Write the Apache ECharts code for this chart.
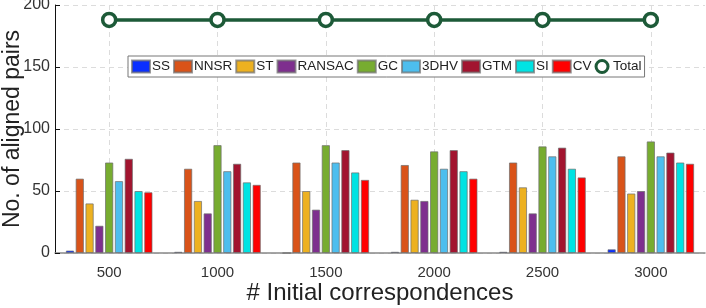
<!DOCTYPE html>
<html><head><meta charset="utf-8">
<script src="https://cdn.jsdelivr.net/npm/echarts@6/dist/echarts.min.js"></script>
<style>html,body{margin:0;padding:0;background:#fff}#c{width:706px;height:308px}</style>
</head><body><div id="c"></div>
<script>
const categories = ['500','1000','1500','2000','2500','3000'];
const SS     = [2, 1, 0, 1, 1, 3];
const NNSR   = [60, 68, 73, 71, 73, 78];
const ST     = [40, 42, 50, 43, 53, 48];
const RANSAC = [22, 32, 35, 42, 32, 50];
const GC     = [73, 87, 87, 82, 86, 90];
const DHV3   = [58, 66, 73, 68, 78, 78];
const GTM    = [76, 72, 83, 83, 85, 81];
const SI     = [50, 57, 65, 66, 68, 73];
const CV     = [49, 55, 59, 60, 61, 72];
const Total  = [188, 188, 188, 188, 188, 188];
const yTicks = [0, 50, 100, 150, 200];

const barSeries = [
  ['SS', SS, '#0a2fff'],
  ['NNSR', NNSR, '#d95319'],
  ['ST', ST, '#edb120'],
  ['RANSAC', RANSAC, '#7e2f8e'],
  ['GC', GC, '#77ac30'],
  ['3DHV', DHV3, '#4dbeee'],
  ['GTM', GTM, '#a2142f'],
  ['SI', SI, '#00e3e3'],
  ['CV', CV, '#ff0000']
];
const font = 'Liberation Sans, Arial, Helvetica, sans-serif';
const series = barSeries.map(([name, data, color]) => ({
  name, type: 'bar', data,
  barGap: '18%', barCategoryGap: '20%',
  itemStyle: { color, borderColor: 'rgba(110,110,110,0.7)', borderWidth: 1 }
}));
const green = '#1d5a38';
series.push({
  name: 'Total', type: 'line', data: Total,
  symbol: 'circle', symbolSize: 13,
  lineStyle: { color: green, width: 3.5 },
  itemStyle: { color: '#fff', borderColor: green, borderWidth: 3.5 },
  z: 5
});

const chart = echarts.init(document.getElementById('c'));
chart.setOption({
  animation: false,
  grid: { left: 55, right: 1, top: 5, bottom: 55, containLabel: false, outerBoundsMode: 'none' },
  legend: {
    left: 128, top: 56,
    itemWidth: 18, itemHeight: 12, itemGap: 3,
    padding: [3, 3, 3, 3],
    borderColor: '#777', borderWidth: 1, backgroundColor: '#fff',
    textStyle: { fontFamily: font, fontSize: 13.5, color: '#222', padding: [0, 0, 0, -3] },
    data: barSeries.map(s => ({ name: s[0], icon: 'rect' })).concat([{
      name: 'Total', icon: 'circle',
      itemStyle: { color: '#fff', borderColor: green, borderWidth: 3 }
    }])
  },
  xAxis: {
    type: 'category', data: categories,
    name: '# Initial correspondences', nameLocation: 'middle', nameGap: 28, nameMoveOverlap: false,
    nameTextStyle: { fontFamily: font, fontSize: 24, color: '#222' },
    axisLine: { lineStyle: { color: '#888', width: 1.5 } },
    axisTick: { show: false },
    axisLabel: { fontFamily: font, fontSize: 15, color: '#333', margin: 12 },
    splitLine: { show: true, alignWithLabel: true, lineStyle: { type: [5, 4], color: '#dcdcdc' } }
  },
  yAxis: {
    type: 'value', min: 0, max: 200, interval: 50,
    name: 'No. of aligned pairs', nameLocation: 'middle', nameGap: 31, nameMoveOverlap: false,
    nameTextStyle: { fontFamily: font, fontSize: 23, color: '#222' },
    axisLine: { show: true, lineStyle: { color: '#111', width: 1 } },
    axisTick: { show: true, inside: true, length: 5, lineStyle: { color: '#111' } },
    axisLabel: { fontFamily: font, fontSize: 16, color: '#333', margin: 5,
      formatter: v => yTicks.includes(v) ? String(v) : '' },
    splitLine: { show: true, lineStyle: { type: [5, 4], color: '#dcdcdc' } }
  },
  series
});
</script></body></html>
